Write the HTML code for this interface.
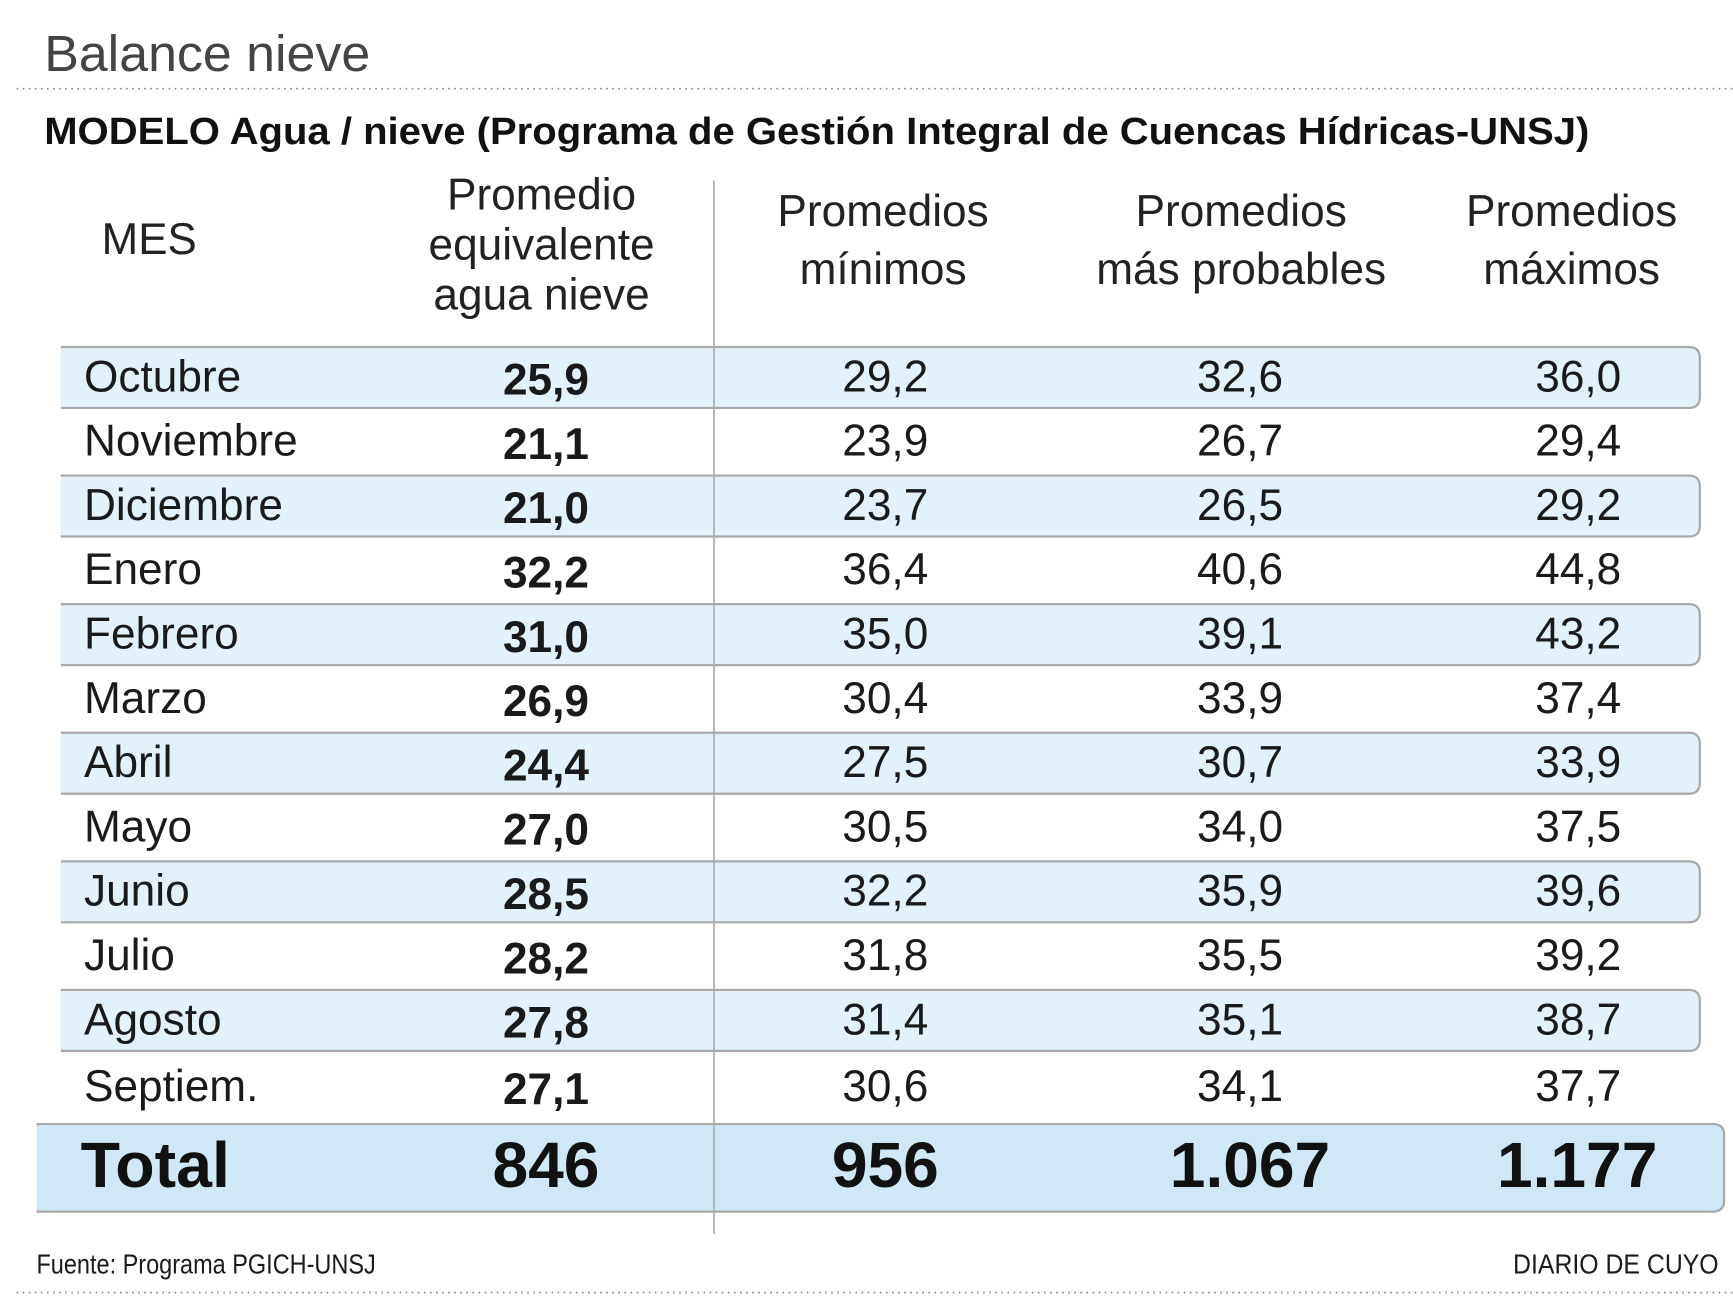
<!DOCTYPE html>
<html><head><meta charset="utf-8"><style>
html,body{margin:0;padding:0;background:#fff;}
svg{display:block;}
text{font-family:"Liberation Sans",Arial,sans-serif;fill:#1a1a1a;}
.h{font-size:40px;text-anchor:middle;fill:#222;}
.m{font-size:40px;}
.n{font-size:40px;text-anchor:middle;}
.b{font-size:40px;font-weight:bold;text-anchor:middle;}
.t{font-size:58px;font-weight:bold;text-anchor:middle;fill:#111;}
</style></head><body>
<svg width="1733" height="1297" viewBox="0 0 1568 1170" preserveAspectRatio="none" xmlns="http://www.w3.org/2000/svg">
<text x="40" y="64" style="font-size:46px;fill:#444" textLength="295" lengthAdjust="spacingAndGlyphs">Balance nieve</text>
<line x1="15" y1="80" x2="1568" y2="80" stroke="#888" stroke-width="1.5" stroke-dasharray="1.5 4"/>
<text x="40" y="130" style="font-size:34px;font-weight:bold;fill:#111" textLength="1398" lengthAdjust="spacingAndGlyphs">MODELO Agua / nieve (Programa de Gestión Integral de Cuencas Hídricas-UNSJ)</text>

<text x="92" y="229" class="m" style="fill:#222" textLength="86" lengthAdjust="spacingAndGlyphs">MES</text>
<text x="490" y="189" class="h">Promedio</text>
<text x="490" y="234" class="h">equivalente</text>
<text x="490" y="279" class="h">agua nieve</text>
<text x="799" y="204" class="h">Promedios</text>
<text x="799" y="256" class="h">mínimos</text>
<text x="1123" y="204" class="h">Promedios</text>
<text x="1123" y="256" class="h">más probables</text>
<text x="1422" y="204" class="h">Promedios</text>
<text x="1422" y="256" class="h">máximos</text>

<g fill="#e3f1fa" stroke="#a8a8a8" stroke-width="2">
<path d="M55 313 H1528 Q1538 313 1538 323 V358 Q1538 368 1528 368 H55"/>
<path d="M55 429 H1528 Q1538 429 1538 439 V474 Q1538 484 1528 484 H55"/>
<path d="M55 545 H1528 Q1538 545 1538 555 V590 Q1538 600 1528 600 H55"/>
<path d="M55 661 H1528 Q1538 661 1538 671 V706 Q1538 716 1528 716 H55"/>
<path d="M55 777 H1528 Q1538 777 1538 787 V822 Q1538 832 1528 832 H55"/>
<path d="M55 893 H1528 Q1538 893 1538 903 V938 Q1538 948 1528 948 H55"/>
</g>
<path d="M33 1014 H1550 Q1560 1014 1560 1024 V1083 Q1560 1093 1550 1093 H33 Z" fill="#d0e8f5" stroke="none"/>
<path d="M33 1014 H1550 Q1560 1014 1560 1024 V1083 Q1560 1093 1550 1093 H33" fill="none" stroke="#a8a8a8" stroke-width="2"/>
<line x1="646" y1="163" x2="646" y2="1113" stroke="#aaa" stroke-width="1.5"/>

<g transform="translate(0,-2)">
<text x="76" y="355" class="m">Octubre</text><text x="494" y="358" class="b">25,9</text><text x="801" y="355" class="n">29,2</text><text x="1122" y="355" class="n">32,6</text><text x="1428" y="355" class="n">36,0</text>
<text x="76" y="413" class="m">Noviembre</text><text x="494" y="416" class="b">21,1</text><text x="801" y="413" class="n">23,9</text><text x="1122" y="413" class="n">26,7</text><text x="1428" y="413" class="n">29,4</text>
<text x="76" y="471" class="m">Diciembre</text><text x="494" y="474" class="b">21,0</text><text x="801" y="471" class="n">23,7</text><text x="1122" y="471" class="n">26,5</text><text x="1428" y="471" class="n">29,2</text>
<text x="76" y="529" class="m">Enero</text><text x="494" y="532" class="b">32,2</text><text x="801" y="529" class="n">36,4</text><text x="1122" y="529" class="n">40,6</text><text x="1428" y="529" class="n">44,8</text>
<text x="76" y="587" class="m">Febrero</text><text x="494" y="590" class="b">31,0</text><text x="801" y="587" class="n">35,0</text><text x="1122" y="587" class="n">39,1</text><text x="1428" y="587" class="n">43,2</text>
<text x="76" y="645" class="m">Marzo</text><text x="494" y="648" class="b">26,9</text><text x="801" y="645" class="n">30,4</text><text x="1122" y="645" class="n">33,9</text><text x="1428" y="645" class="n">37,4</text>
<text x="76" y="703" class="m">Abril</text><text x="494" y="706" class="b">24,4</text><text x="801" y="703" class="n">27,5</text><text x="1122" y="703" class="n">30,7</text><text x="1428" y="703" class="n">33,9</text>
<text x="76" y="761" class="m">Mayo</text><text x="494" y="764" class="b">27,0</text><text x="801" y="761" class="n">30,5</text><text x="1122" y="761" class="n">34,0</text><text x="1428" y="761" class="n">37,5</text>
<text x="76" y="819" class="m">Junio</text><text x="494" y="822" class="b">28,5</text><text x="801" y="819" class="n">32,2</text><text x="1122" y="819" class="n">35,9</text><text x="1428" y="819" class="n">39,6</text>
<text x="76" y="877" class="m">Julio</text><text x="494" y="880" class="b">28,2</text><text x="801" y="877" class="n">31,8</text><text x="1122" y="877" class="n">35,5</text><text x="1428" y="877" class="n">39,2</text>
<text x="76" y="935" class="m">Agosto</text><text x="494" y="938" class="b">27,8</text><text x="801" y="935" class="n">31,4</text><text x="1122" y="935" class="n">35,1</text><text x="1428" y="935" class="n">38,7</text>
<text x="76" y="995" class="m">Septiem.</text><text x="494" y="998" class="b">27,1</text><text x="801" y="995" class="n">30,6</text><text x="1122" y="995" class="n">34,1</text><text x="1428" y="995" class="n">37,7</text>
</g>
<text x="73" y="1071" style="font-size:58px;font-weight:bold;fill:#111" textLength="135" lengthAdjust="spacingAndGlyphs">Total</text>
<text x="494" y="1071" class="t">846</text>
<text x="801" y="1071" class="t">956</text>
<text x="1131" y="1071" class="t">1.067</text>
<text x="1427" y="1071" class="t">1.177</text>

<text x="33" y="1149" style="font-size:25px" textLength="307" lengthAdjust="spacingAndGlyphs">Fuente: Programa PGICH-UNSJ</text>
<text x="1555" y="1149" style="font-size:25px;text-anchor:end" textLength="186" lengthAdjust="spacingAndGlyphs">DIARIO DE CUYO</text>
<line x1="15" y1="1166" x2="1568" y2="1166" stroke="#888" stroke-width="1.5" stroke-dasharray="1.5 4"/>
</svg>
</body></html>
